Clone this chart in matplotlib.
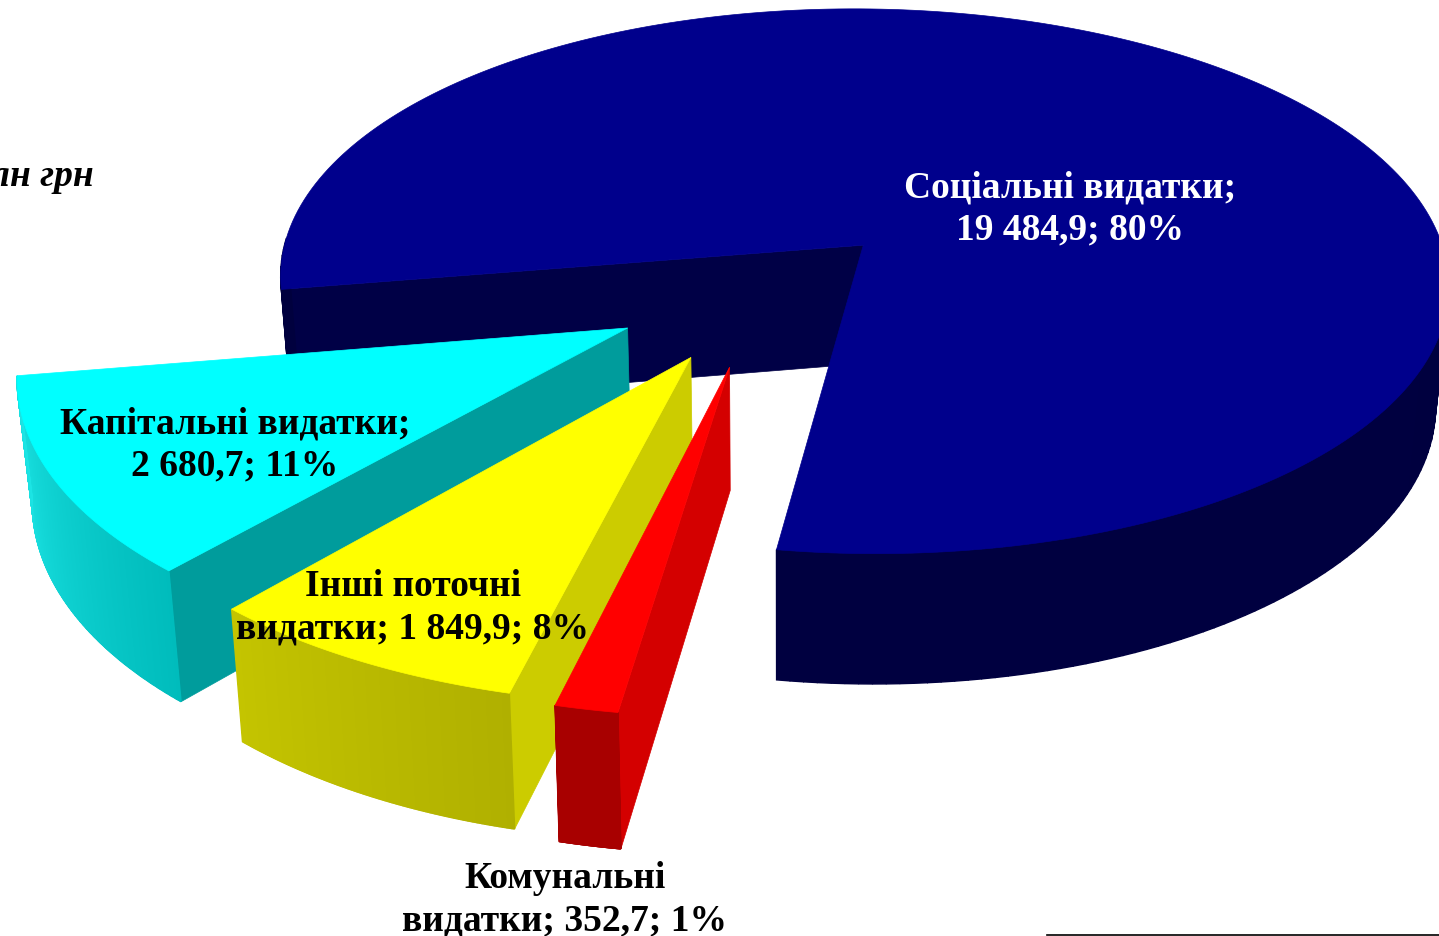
import numpy as np
import matplotlib
matplotlib.use('Agg')
import matplotlib.pyplot as plt
from matplotlib.patches import Polygon

# order = clockwise from the left edge of the big slice
categories = ['Соціальні видатки', 'Комунальні видатки', 'Інші поточні видатки', 'Капітальні видатки']
values = [19484.9, 352.7, 1849.9, 2680.7]
labels = ['Соціальні видатки;\n19 484,9; 80%',
          'Комунальні\nвидатки; 352,7; 1%',
          'Інші поточні\nвидатки; 1 849,9; 8%',
          'Капітальні видатки;\n2 680,7; 11%']
unit = 'млн грн'

explode = [0.20, 0.29, 0.295, 0.29]
nudge = [(0, 0), (-18, 1), (-8, -2), (-2, 4)]
rank = [0, 3, 2, 1]  # painter order: cyan, then yellow, then red in front
top_colors = ['#00008c', '#ff0000', '#ffff00', '#00ffff']
cut_colors = ['#000046', '#d40000', '#cccc00', '#009c9c']
wall_a = ['#00003e', '#a80000', '#b0b000', '#00bcbc']
wall_b = ['#000040', '#a80000', '#c4c400', '#1ce4e4']
label_pos = [(1070, 209), (565, 900), (413, 608), (235, 445)]
label_col = ['white', 'black', 'black', 'black']

START = 260.7
CX, CY = 782, 285
R, RY = 590, 278
K = 0.135
H = 120
Q = 0.98


def project(x, y, z=0):
    s = 1 / (1 - K * y)
    drop = H * s if z else 0
    if z:
        s = s * Q
    return CX + R * x * s, CY + RY * y * s + drop


def direc(t):
    a = np.radians(t)
    return np.sin(a), -np.cos(a)


fig = plt.figure(figsize=(14.39, 9.37), dpi=100)
ax = fig.add_axes([0, 0, 1, 1])
ax.set_xlim(0, 1439)
ax.set_ylim(937, 0)
ax.axis('off')


def shifted(pts, i):
    return [(p[0] + nudge[i][0], p[1] + nudge[i][1]) for p in pts]


total = sum(values)
t = START
for i, v in enumerate(values):
    sweep = v / total * 360
    t1, t2 = t, t + sweep
    t = t2
    ex, ey = direc((t1 + t2) / 2)
    ax0, ay0 = ex * explode[i], ey * explode[i]
    ts = np.linspace(t1, t2, 240)
    xs = ax0 + np.sin(np.radians(ts))
    ys = ay0 - np.cos(np.radians(ts))
    z0 = 10 + rank[i] * 10

    # flat side that faces the viewer
    edge = direc(t1)
    side = [project(ax0, ay0), project(ax0 + edge[0], ay0 + edge[1]),
            project(ax0 + edge[0], ay0 + edge[1], 1), project(ax0, ay0, 1)]
    ax.add_patch(Polygon(shifted(side, i), closed=True, fc=cut_colors[i], ec=cut_colors[i], lw=0.5, zorder=z0))

    # outer wall, only the front part of the rim
    ca = np.array(matplotlib.colors.to_rgb(wall_a[i]))
    cb = np.array(matplotlib.colors.to_rgb(wall_b[i]))
    for j in range(len(ts) - 1):
        if np.cos(np.radians(ts[j])) > 0.02:
            continue
        f = j / (len(ts) - 2)
        col = ca + (cb - ca) * f
        quad = [project(xs[j], ys[j]), project(xs[j + 1], ys[j + 1]),
                project(xs[j + 1], ys[j + 1], 1), project(xs[j], ys[j], 1)]
        ax.add_patch(Polygon(shifted(quad, i), closed=True, fc=col, ec=col, lw=1.0, zorder=z0 + 1))

    top = [project(ax0, ay0)] + [project(a, b) for a, b in zip(xs, ys)]
    ax.add_patch(Polygon(shifted(top, i), closed=True, fc=top_colors[i], ec=top_colors[i], lw=0.5, zorder=z0 + 2))

for lab, pos, col in zip(labels, label_pos, label_col):
    ax.text(pos[0], pos[1], lab, family='Liberation Serif', weight='bold', fontsize=27, color=col,
            ha='center', va='center', linespacing=1.27, zorder=60)

ax.text(94, 176, unit, family='Liberation Serif', weight='bold', style='italic', fontsize=27,
        ha='right', va='center', zorder=60)
ax.plot([1047, 1439], [936, 936], color='black', lw=1.2, zorder=60)

fig.savefig('out.png', dpi=100)
